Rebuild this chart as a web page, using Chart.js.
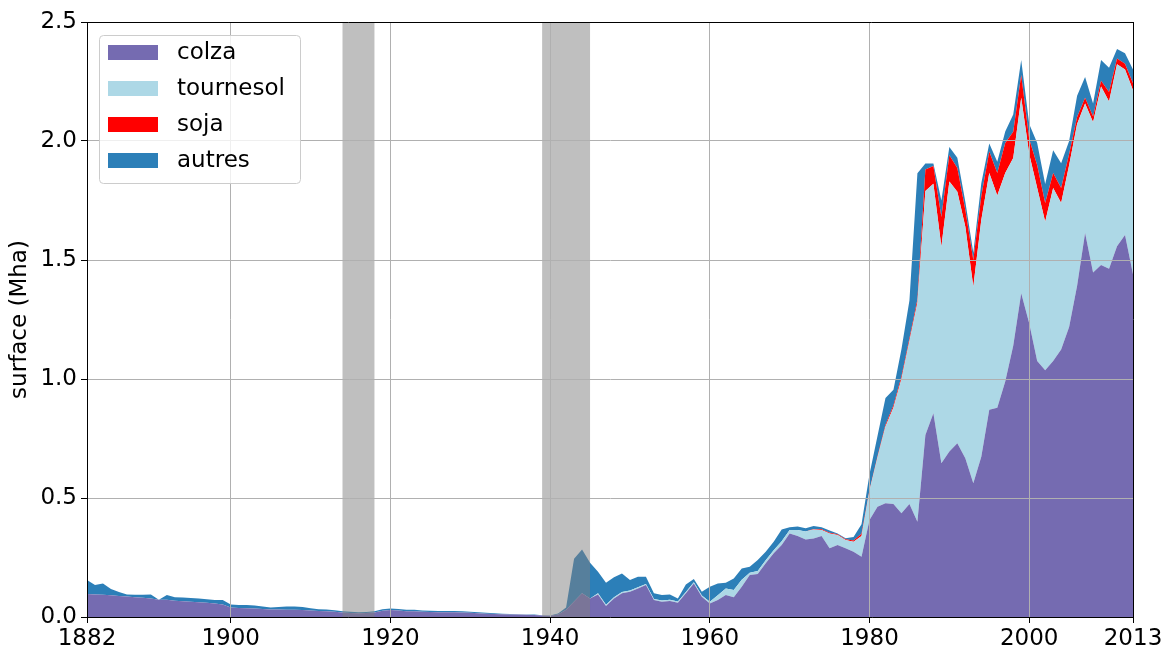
<!DOCTYPE html>
<html>
<head>
<meta charset="utf-8">
<script src="https://cdn.jsdelivr.net/npm/chart.js@4.4.1/dist/chart.umd.min.js"></script>
<style>
  html, body { margin: 0; padding: 0; background: #fff; }
  canvas { display: block; }
</style>
</head>
<body>
<canvas id="chart" width="1165" height="647"></canvas>
<script>
// years (one value per year)
const years = [
  1882, 1883, 1884, 1885, 1886, 1887, 1888, 1889, 1890, 1891,
  1892, 1893, 1894, 1895, 1896, 1897, 1898, 1899, 1900, 1901,
  1902, 1903, 1904, 1905, 1906, 1907, 1908, 1909, 1910, 1911,
  1912, 1913, 1914, 1915, 1916, 1917, 1918, 1919, 1920, 1921,
  1922, 1923, 1924, 1925, 1926, 1927, 1928, 1929, 1930, 1931,
  1932, 1933, 1934, 1935, 1936, 1937, 1938, 1939, 1940, 1941,
  1942, 1943, 1944, 1945, 1946, 1947, 1948, 1949, 1950, 1951,
  1952, 1953, 1954, 1955, 1956, 1957, 1958, 1959, 1960, 1961,
  1962, 1963, 1964, 1965, 1966, 1967, 1968, 1969, 1970, 1971,
  1972, 1973, 1974, 1975, 1976, 1977, 1978, 1979, 1980, 1981,
  1982, 1983, 1984, 1985, 1986, 1987, 1988, 1989, 1990, 1991,
  1992, 1993, 1994, 1995, 1996, 1997, 1998, 1999, 2000, 2001,
  2002, 2003, 2004, 2005, 2006, 2007, 2008, 2009, 2010, 2011,
  2012, 2013
];

// surfaces in Mha
const colza = [
  0.097, 0.095, 0.093, 0.091, 0.088, 0.086, 0.083, 0.081, 0.078, 0.072,
  0.072, 0.068, 0.066, 0.064, 0.062, 0.060, 0.057, 0.052, 0.040, 0.038,
  0.037, 0.036, 0.034, 0.032, 0.031, 0.030, 0.030, 0.029, 0.027, 0.025,
  0.024, 0.022, 0.019, 0.017, 0.016, 0.017, 0.019, 0.026, 0.029, 0.027,
  0.024, 0.024, 0.022, 0.021, 0.020, 0.020, 0.020, 0.019, 0.018, 0.016,
  0.014, 0.013, 0.012, 0.011, 0.010, 0.009, 0.008, 0.006, 0.005, 0.010,
  0.030, 0.065, 0.100, 0.078, 0.095, 0.046, 0.078, 0.100, 0.106, 0.120,
  0.134, 0.071, 0.064, 0.067, 0.060, 0.100, 0.141, 0.085, 0.057, 0.071,
  0.092, 0.083, 0.127, 0.176, 0.181, 0.226, 0.268, 0.303, 0.351, 0.340,
  0.326, 0.330, 0.340, 0.289, 0.303, 0.289, 0.274, 0.253, 0.408, 0.463,
  0.478, 0.475, 0.436, 0.475, 0.400, 0.765, 0.856, 0.646, 0.695, 0.730,
  0.667, 0.562, 0.673, 0.871, 0.879, 0.990, 1.140, 1.360, 1.234, 1.076,
  1.037, 1.076, 1.124, 1.218, 1.392, 1.613, 1.447, 1.479, 1.463, 1.558,
  1.605, 1.440
];

const tournesol = [
  0, 0, 0, 0, 0, 0, 0, 0, 0, 0,
  0, 0, 0, 0, 0, 0, 0, 0, 0, 0,
  0, 0, 0, 0, 0, 0, 0, 0, 0, 0,
  0, 0, 0, 0, 0, 0, 0, 0, 0, 0,
  0, 0, 0, 0, 0, 0, 0, 0, 0, 0,
  0, 0, 0, 0, 0, 0, 0, 0, 0, 0,
  0, 0, 0, 0, 0.005, 0.005, 0.005, 0.005, 0.005, 0.005,
  0.005, 0.005, 0.005, 0.005, 0.005, 0.005, 0.005, 0.005, 0.007, 0.020,
  0.028, 0.030, 0.030, 0.010, 0.012, 0.012, 0.012, 0.015, 0.015, 0.026,
  0.033, 0.038, 0.026, 0.062, 0.042, 0.035, 0.042, 0.087, 0.122, 0.207,
  0.322, 0.405, 0.564, 0.685, 0.920, 1.025, 0.964, 0.910, 1.135, 1.057,
  0.973, 0.826, 0.995, 0.995, 0.892, 0.876, 0.789, 0.822, 0.711, 0.727,
  0.624, 0.727, 0.616, 0.680, 0.679, 0.545, 0.632, 0.750, 0.703, 0.764,
  0.695, 0.773
];

const soja = [
  0, 0, 0, 0, 0, 0, 0, 0, 0, 0,
  0, 0, 0, 0, 0, 0, 0, 0, 0, 0,
  0, 0, 0, 0, 0, 0, 0, 0, 0, 0,
  0, 0, 0, 0, 0, 0, 0, 0, 0, 0,
  0, 0, 0, 0, 0, 0, 0, 0, 0, 0,
  0, 0, 0, 0, 0, 0, 0, 0, 0, 0,
  0, 0, 0, 0, 0, 0, 0, 0, 0, 0,
  0, 0, 0, 0, 0, 0, 0, 0, 0, 0,
  0, 0, 0, 0, 0, 0, 0, 0, 0, 0,
  0, 0.002, 0.003, 0.003, 0.003, 0.003, 0.005, 0.010, 0.005, 0.005,
  0.008, 0.010, 0.010, 0.010, 0.015, 0.090, 0.075, 0.125, 0.110, 0.100,
  0.070, 0.112, 0.100, 0.090, 0.095, 0.126, 0.110, 0.095, 0.063, 0.095,
  0.079, 0.063, 0.063, 0.047, 0.030, 0.024, 0.024, 0.024, 0.040, 0.025,
  0.025, 0.030
];

const autres = [
  0.058, 0.039, 0.048, 0.027, 0.017, 0.009, 0.010, 0.012, 0.017, 0.000,
  0.020, 0.015, 0.016, 0.016, 0.016, 0.015, 0.014, 0.019, 0.012, 0.012,
  0.013, 0.012, 0.010, 0.008, 0.011, 0.014, 0.014, 0.013, 0.010, 0.008,
  0.008, 0.006, 0.005, 0.005, 0.004, 0.004, 0.005, 0.007, 0.007, 0.007,
  0.006, 0.006, 0.005, 0.005, 0.005, 0.005, 0.005, 0.005, 0.004, 0.004,
  0.004, 0.003, 0.002, 0.002, 0.002, 0.002, 0.002, 0.001, 0.001, 0.005,
  0.010, 0.180, 0.184, 0.150, 0.090, 0.093, 0.084, 0.078, 0.044, 0.044,
  0.030, 0.024, 0.023, 0.023, 0.013, 0.032, 0.014, 0.016, 0.063, 0.050,
  0.024, 0.049, 0.047, 0.025, 0.046, 0.036, 0.036, 0.050, 0.011, 0.014,
  0.014, 0.012, 0.008, 0.009, 0.003, 0.004, 0.015, 0.040, 0.065, 0.085,
  0.112, 0.065, 0.115, 0.160, 0.530, 0.025, 0.010, 0.069, 0.035, 0.043,
  0.035, 0.030, 0.054, 0.034, 0.047, 0.048, 0.072, 0.063, 0.063, 0.094,
  0.079, 0.095, 0.103, 0.055, 0.089, 0.087, 0.055, 0.087, 0.102, 0.040,
  0.044, 0.057
];

const seriesNames = ['colza', 'tournesol', 'soja', 'autres'];
const seriesColors = ['#756bb1', '#add8e6', '#ff0000', '#2c7fb8'];

const xTicks = [1882, 1900, 1920, 1940, 1960, 1980, 2000, 2013];
const yTicks = [0, 0.5, 1.0, 1.5, 2.0, 2.5];

// the two world wars
const warStart = [1914, 1939];
const warEnd = [1918, 1945];

Chart.defaults.font.family = "'DejaVu Sans', sans-serif";
Chart.defaults.font.size = 23;
Chart.defaults.color = '#000';

const values = [colza, tournesol, soja, autres];
const datasets = values.map((arr, i) => ({
  label: seriesNames[i],
  data: years.map((y, j) => ({ x: y, y: arr[j] })),
  backgroundColor: seriesColors[i],
  borderColor: seriesColors[i],
  borderWidth: 0,
  pointRadius: 0,
  tension: 0,
  fill: i === 0 ? 'origin' : '-1'
}));

const warBands = {
  id: 'warBands',
  afterDatasetsDraw(chart) {
    const { ctx, chartArea, scales } = chart;
    ctx.save();
    ctx.fillStyle = 'rgba(128,128,128,0.5)';
    warStart.forEach((s, i) => {
      const x0 = scales.x.getPixelForValue(s);
      const x1 = scales.x.getPixelForValue(warEnd[i]);
      ctx.fillRect(x0, chartArea.top, x1 - x0, chartArea.bottom - chartArea.top);
    });
    ctx.restore();
  }
};

const frameAndLegend = {
  id: 'frameAndLegend',
  afterDraw(chart) {
    const { ctx, chartArea } = chart;
    ctx.save();
    // top and right spines
    ctx.strokeStyle = '#000';
    ctx.lineWidth = 1;
    ctx.beginPath();
    ctx.moveTo(chartArea.left, chartArea.top + 0.5);
    ctx.lineTo(chartArea.right, chartArea.top + 0.5);
    ctx.moveTo(chartArea.right + 0.5, chartArea.top);
    ctx.lineTo(chartArea.right + 0.5, chartArea.bottom);
    ctx.stroke();

    // legend
    const bx = 99.5, by = 35.5, bw = 201, bh = 148, r = 4;
    ctx.beginPath();
    ctx.moveTo(bx + r, by);
    ctx.arcTo(bx + bw, by, bx + bw, by + bh, r);
    ctx.arcTo(bx + bw, by + bh, bx, by + bh, r);
    ctx.arcTo(bx, by + bh, bx, by, r);
    ctx.arcTo(bx, by, bx + bw, by, r);
    ctx.closePath();
    ctx.fillStyle = 'rgba(255,255,255,0.8)';
    ctx.fill();
    ctx.strokeStyle = '#cccccc';
    ctx.stroke();

    ctx.font = "23px 'DejaVu Sans'";
    ctx.textBaseline = 'middle';
    ctx.textAlign = 'left';
    chart.data.datasets.forEach((ds, i) => {
      const cy = 53 + i * 36;
      ctx.fillStyle = ds.backgroundColor;
      ctx.fillRect(108, cy - 8, 50, 15);
      ctx.fillStyle = '#000';
      ctx.fillText(ds.label, 177, cy);
    });
    ctx.restore();
  }
};

new Chart(document.getElementById('chart'), {
  type: 'line',
  data: { datasets },
  options: {
    responsive: false,
    animation: false,
    layout: { padding: { top: 22, right: 32, bottom: 0, left: 0 } },
    plugins: {
      legend: { display: false },
      tooltip: { enabled: false }
    },
    scales: {
      x: {
        type: 'linear',
        min: 1882,
        max: 2013,
        afterBuildTicks: s => { s.ticks = xTicks.map(v => ({ value: v })); },
        afterFit: s => { s.height = 30; },
        ticks: { callback: v => String(v), padding: 2, maxRotation: 0, autoSkip: false },
        grid: { color: '#b0b0b0', lineWidth: 1, tickColor: '#000', tickLength: 6, z: 1 },
        border: { display: true, color: '#000', width: 1, z: 2 }
      },
      y: {
        stacked: true,
        min: 0,
        max: 2.5,
        afterBuildTicks: s => { s.ticks = yTicks.map(v => ({ value: v })); },
        afterFit: s => { s.width = 87; },
        ticks: { callback: v => v.toFixed(1), padding: 4 },
        grid: { color: '#b0b0b0', lineWidth: 1, tickColor: '#000', tickLength: 6, z: 1 },
        border: { display: true, color: '#000', width: 1, z: 2 },
        title: { display: true, text: 'surface (Mha)', padding: { top: 6, bottom: 0 } }
      }
    }
  },
  plugins: [warBands, frameAndLegend]
});
</script>
</body>
</html>
